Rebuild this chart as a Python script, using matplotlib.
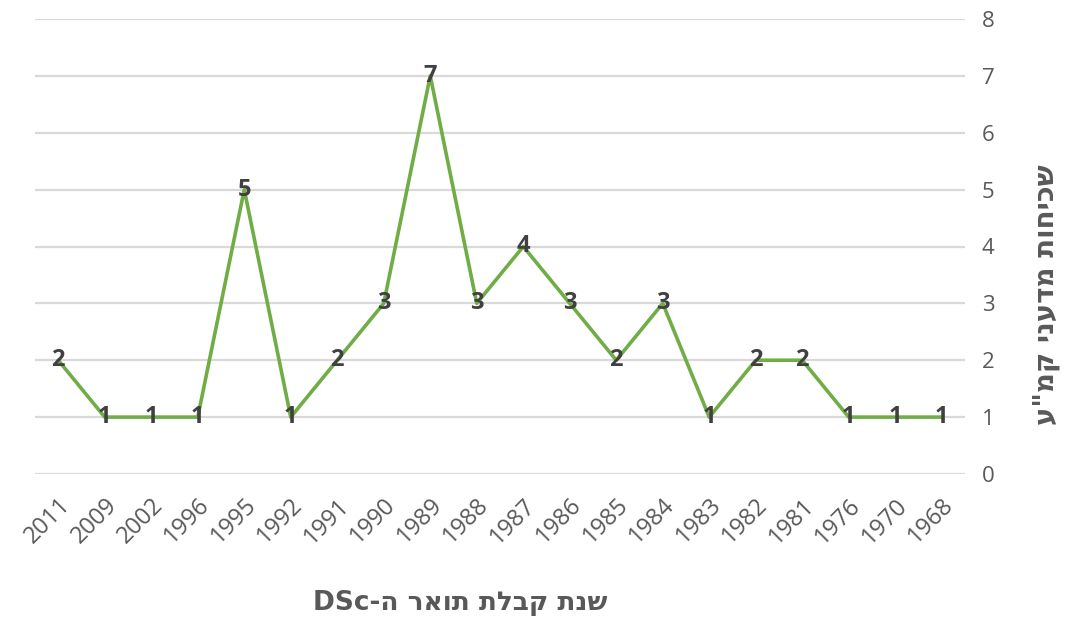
import matplotlib
matplotlib.use("Agg")
import matplotlib.pyplot as plt

years = ["2011", "2009", "2002", "1996", "1995", "1992", "1991", "1990", "1989", "1988",
         "1987", "1986", "1985", "1984", "1983", "1982", "1981", "1976", "1970", "1968"]
counts = [2, 1, 1, 1, 5, 1, 2, 3, 7, 3, 4, 3, 2, 3, 1, 2, 2, 1, 1, 1]
y_ticks = list(range(0, 9))

x_title_logical = "שנת קבלת תואר ה-"
y_title_logical = 'שכיחות מדעני קמ"ע'
# visual order (matplotlib has no bidi)
x_title = "DSc" + x_title_logical[::-1]
y_title = y_title_logical[::-1]

plt.rcParams['font.family'] = ['Open Sans', 'DejaVu Sans']

fig = plt.figure(figsize=(10.71, 6.21), dpi=100)
ax = fig.add_axes([35/1071, 1-474/621, (965-35)/1071, (474-19)/621])

xs = list(range(len(years)))
ax.plot(xs, counts, color="#70ad47", linewidth=2.6, zorder=3)
for x, v in zip(xs, counts):
    ax.text(x, v, str(v), ha="center", va="center", fontsize=17, fontweight="bold",
            color="#404040", zorder=4)

ax.set_xlim(-0.5, len(years) - 0.5)
ax.set_ylim(0, 8)
ax.set_yticks(y_ticks)
ax.yaxis.tick_right()
ax.grid(axis="y", color="#d9d9d9", linewidth=1.6)
ax.set_axisbelow(True)
for s in ax.spines.values():
    s.set_visible(False)
ax.tick_params(axis="y", length=0, labelsize=16, labelcolor="#595959", pad=12)
ax.set_xticks(xs)
ax.set_xticklabels(years, rotation=45, ha="right", va="top", rotation_mode="anchor")
ax.tick_params(axis="x", length=0, labelsize=17, labelcolor="#595959", pad=14)

fig.text(460/1071, 1-603/621, x_title, ha="center", va="center", fontsize=19,
         fontweight="bold", color="#595959", family=['DejaVu Sans'])
fig.text(1046/1071, 1-295/621, y_title, ha="center", va="center", rotation=90,
         fontsize=20, fontweight="bold", color="#595959", family=['DejaVu Sans'])

fig.savefig("out.png", dpi=100)
